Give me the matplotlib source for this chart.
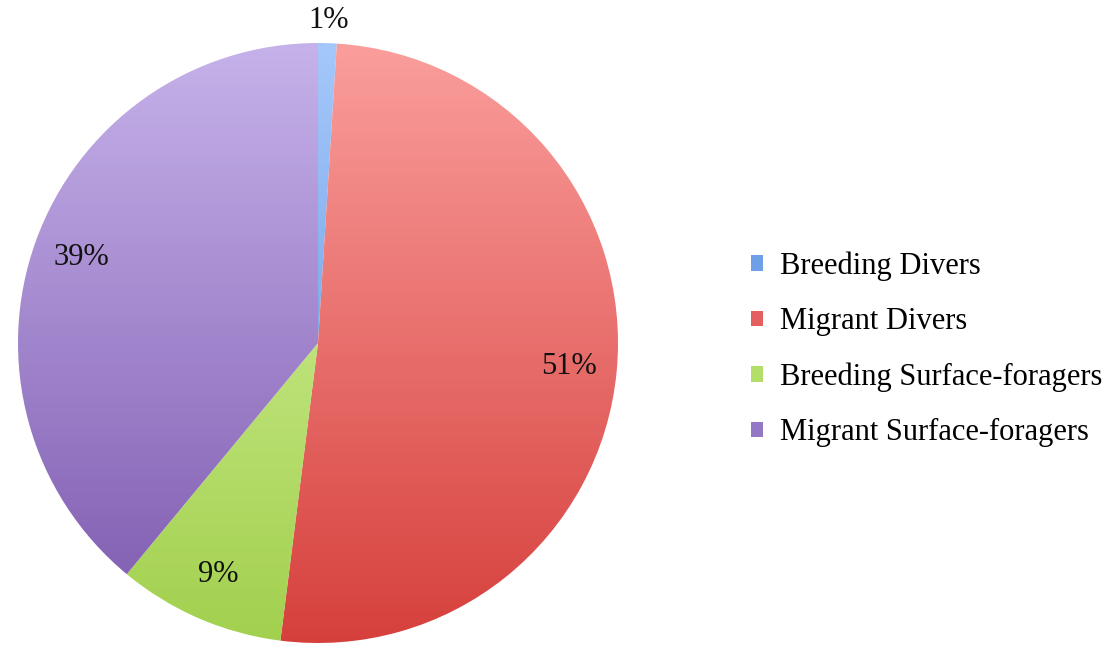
import numpy as np
import matplotlib
matplotlib.use("Agg")
import matplotlib.pyplot as plt
from matplotlib.colors import LinearSegmentedColormap
from matplotlib.patches import Patch

# Share of each foraging group (percent)
groups = ["Breeding Divers", "Migrant Divers",
          "Breeding Surface-foragers", "Migrant Surface-foragers"]
shares = [1, 51, 9, 39]

# vertical gradient per slice: (top colour, bottom colour)
top_colors = ["#a4c8fa", "#fa9e9c", "#daf6a6", "#c6b2ea"]
bottom_colors = ["#5a8cdc", "#d6403c", "#a2d04e", "#7c58ae"]
legend_colors = ["#6f9fe6", "#e46060", "#b4de6a", "#9478c6"]

plt.rcParams["font.family"] = ["Liberation Serif", "DejaVu Serif"]

W, H = 1113, 646
fig = plt.figure(figsize=(W / 100, H / 100), dpi=100)
ax = fig.add_axes([0, 0, 1, 1])

cx, cy, r = 318, H - 343, 300

wedges, texts, autotexts = ax.pie(
    shares, center=(cx, cy), radius=r, startangle=90, counterclock=False,
    autopct="%d%%", pctdistance=0.84, frame=True,
    textprops=dict(fontsize=22, color="#111111"))
ax.set_xlim(0, W)
ax.set_ylim(0, H)
ax.set_aspect("equal")
ax.axis("off")

grad = np.linspace(0, 1, 256).reshape(-1, 1)
for w, c0, c1 in zip(wedges, top_colors, bottom_colors):
    w.set_facecolor("none")
    w.set_edgecolor("none")
    cmap = LinearSegmentedColormap.from_list("g", [c0, c1])
    im = ax.imshow(grad, cmap=cmap, aspect="auto", origin="upper",
                   extent=(cx - r, cx + r, cy - r, cy + r), zorder=1)
    im.set_clip_path(w)

# the tiny slice gets its label above the pie
w0 = wedges[0]
ang = np.deg2rad((w0.theta1 + w0.theta2) / 2)
autotexts[0].set_position((cx + 1.075 * r * np.cos(ang),
                           cy + 1.075 * r * np.sin(ang)))
for t in autotexts:
    t.set_zorder(3)

handles = [Patch(facecolor=c, edgecolor="none") for c in legend_colors]
ax.legend(handles, groups, loc="center left", bbox_to_anchor=(0.65, 0.459),
          frameon=False, fontsize=22, handlelength=0.4, handleheight=0.4,
          handletextpad=0.55, labelspacing=0.86)

fig.savefig("out.png", dpi=100)
